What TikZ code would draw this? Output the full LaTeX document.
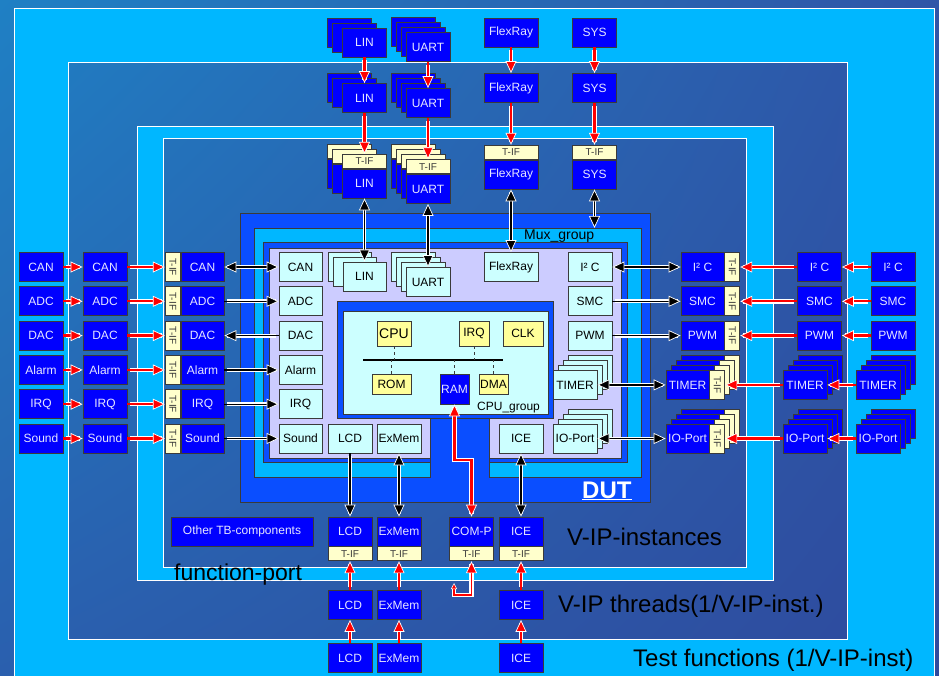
\documentclass[tikz,border=0pt]{standalone}
\usepackage{fontspec}
\setmainfont{Liberation Sans}
\setsansfont{Liberation Sans}
\usepackage{tikz}
\usetikzlibrary{arrows.meta,positioning,shadings}
\definecolor{tbsky}   {HTML}{1F80C4}
\definecolor{tbsteel} {HTML}{2F55A7}
\definecolor{tbdusk}  {HTML}{2A5FAE}
\definecolor{tbnavy}  {HTML}{2F4A9D}
\definecolor{tbcyan}  {HTML}{00B7FF}
\definecolor{tbdut}   {HTML}{0A4EFF}
\definecolor{tblilac} {HTML}{CCCCFF}
\definecolor{tbpale}  {HTML}{CCFFFF}
\definecolor{tbyellow}{HTML}{FFFF99}
\definecolor{tbcream} {HTML}{FFFFCC}
\definecolor{tbblue}  {HTML}{0000FF}
\definecolor{tbink}   {HTML}{3A3A3A}
\definecolor{tbtext}  {HTML}{E6E6FF}
\definecolor{tbred}   {HTML}{FF0000}
\tikzset{
  tbk/.tip={Triangle[length=12pt,width=11pt,color=white,fill=black,line width=0.7pt]},
  tbr/.tip={Triangle[length=12pt,width=11pt,color=white,fill=tbred,line width=0.7pt]},
  tbrs/.tip={Triangle[length=6pt,width=6pt,color=white,fill=tbred,line width=0.5pt]},
  tbnode/.style={draw=tbink, fill=tbblue, text=tbtext, line width=0.8pt, inner sep=0pt,
                 minimum width=44pt, minimum height=29pt, font=\fontsize{12}{14}\selectfont},
  tbmux/.style={tbnode, fill=tbpale, text=black},
  tbcore/.style={tbnode, fill=tbyellow, text=black, minimum height=20pt},
  tbtif/.style={tbnode, fill=tbcream, text=tbink, minimum height=14pt,
                font=\fontsize{10}{12}\selectfont},
  tbtifv/.style={tbtif, minimum width=29pt, minimum height=15pt, rotate=-90},
  tbframe/.style={draw=white, line width=0.9pt},
  tbshell/.style={draw=tbink, line width=0.8pt},
  tbwire/.style={draw=black, line width=1.4pt,
                 preaction={draw=white, line width=3.8pt, -, shorten >=3pt, shorten <=3pt}},
  tbflow/.style={draw=tbred, line width=2.3pt,
                 preaction={draw=white, line width=4.4pt, -, shorten >=3pt, shorten <=3pt}},
  tbtap/.style={draw=tbink, line width=0.8pt, dashed},
  tbbig/.style={font=\fontsize{24}{28}\selectfont, text=black, inner sep=0pt, anchor=base west},
}

\begin{document}
\begin{tikzpicture}[x=1pt, y=-1pt]
  \useasboundingbox (0,0) rectangle (939,675);
  \shade[upper left=tbsky, upper right=tbsteel, lower left=tbdusk, lower right=tbnavy]
    (0,0) rectangle (939,675);

  % nested test-bench frames
  \fill[tbcyan, even odd rule] (14,8) rectangle (934,700) (68,62) rectangle (847,639);
  \fill[tbcyan, even odd rule] (137,126) rectangle (773,580) (163,138) rectangle (746,567);
  \draw[tbframe] (14,8) rectangle (934,700);
  \draw[tbframe] (68,62) rectangle (847,639);
  \draw[tbframe] (137,126) rectangle (773,580);
  \draw[tbframe] (163,138) rectangle (746,567);

  % DUT, Mux_group and CPU_group
  \draw[tbshell, fill=tbdut] (240,213) rectangle (650,502);
  \draw[tbshell, fill=tbcyan] (254,228) -- (641,228) -- (641,477) -- (489,477) -- (489,418)
    -- (430,418) -- (430,477) -- (254,477) -- cycle;
  \draw[tbshell, fill=tbdut] (263,242) -- (627,242) -- (627,462) -- (489,462) -- (489,418)
    -- (430,418) -- (430,462) -- (263,462) -- cycle;
  \draw[tbshell, fill=tblilac] (269,248) -- (621,248) -- (621,458) -- (489,458) -- (489,418)
    -- (430,418) -- (430,458) -- (269,458) -- cycle;
  \draw[tbshell, fill=tbdut] (337,301) rectangle (553,418);
  \draw[tbshell, fill=tbpale] (343,311) rectangle (548,414);
  \node[font=\bfseries\fontsize{24}{28}\selectfont, text=white, inner sep=0pt, anchor=base west]
    (dutlabel) at (582,498) {\underline{DUT}};
  \node[font=\fontsize{14}{16}\selectfont, inner sep=0pt, anchor=base west] (muxlabel) at (524,239) {Mux\_group};
  \node[font=\fontsize{12}{14}\selectfont, inner sep=0pt, anchor=base west] (cpulabel) at (477,410.5) {CPU\_group};

  % CPU core
  \node[tbcore, minimum width=34pt, minimum height=25pt, font=\fontsize{14}{16}\selectfont] (cpu) at (394,333.5) {CPU};
  \node[tbcore, minimum width=30pt, minimum height=25pt] (irq) at (474,333.5) {IRQ};
  \node[tbcore, minimum width=40pt, minimum height=25pt] (clk) at (523,333.5) {CLK};
  \node[tbcore, minimum width=39pt] (rom) at (391.5,384) {ROM};
  \node[tbnode, minimum width=29pt, minimum height=30pt] (ram) at (454.5,389) {RAM};
  \node[tbcore, minimum width=29pt] (dma) at (493.5,384) {DMA};
  \coordinate (busw) at (363,360);
  \coordinate (buse) at (503,360);
  \draw[line width=2pt] (busw) -- (buse);
  \foreach \n in {cpu,irq} \draw[tbtap] (\n.south) -- (\n.south |- busw);
  \foreach \n in {rom,ram,dma} \draw[tbtap] (\n.north) -- (\n.north |- busw);

  % left side ports
  \foreach \name/\yy/\tips [count=\i] in {CAN/267/tbk-tbk,ADC/301.3/-tbk,DAC/335.6/tbk-,
      Alarm/369.9/-tbk,IRQ/404.2/-tbk,Sound/438.5/-tbk}{
    \node[tbnode] (fnL\i) at (41,\yy) {\name};
    \node[tbnode] (thL\i) at (105,\yy) {\name};
    \node[tbnode, minimum width=43pt] (inL\i) at (202.5,\yy) {\name};
    \node[tbtifv, anchor=north] (ifL\i) at (inL\i.west) {T-IF};
    \node[tbmux, minimum width=43pt] (mxL\i) at (300.5,\yy) {\name};
    \draw[tbflow, -tbr] (fnL\i) -- (thL\i);
    \draw[tbflow, -tbr] (thL\i) -- (ifL\i);
    \draw[tbwire, arrows/.expanded=\tips] (inL\i) -- (mxL\i);
  }

  % right side ports
  \foreach \name/\yy/\tips [count=\i] in {I² C/267/tbk-tbk,SMC/301.3/-tbk,PWM/335.6/-tbk}{
    \node[tbnode] (fnR\i) at (893,\yy) {\name};
    \node[tbnode] (thR\i) at (819.5,\yy) {\name};
    \node[tbnode, minimum width=43pt] (inR\i) at (702.5,\yy) {\name};
    \node[tbtifv, anchor=south] (ifR\i) at (inR\i.east) {T-IF};
    \node[tbmux] (mxR\i) at (590,\yy) {\name};
    \draw[tbflow, -tbr] (fnR\i) -- (thR\i);
    \draw[tbflow, -tbr] (thR\i) -- (ifR\i);
    \draw[tbwire, arrows/.expanded=\tips] (mxR\i) -- (inR\i);
  }
  \foreach \name/\yy [count=\j from 4] in {TIMER/384.9,IO-Port/438.5}{
    \foreach \k in {15,10,5}{
      \node[tbmux] at (575+\k,\yy-\k) {};
      \node[tbnode, minimum width=43pt] (tbsh) at (687.5+\k,\yy-\k) {};
      \node[tbtifv, anchor=south] at (tbsh.east) {};
      \node[tbnode] at (805+\k,\yy-\k) {};
      \node[tbnode] at (878+\k,\yy-\k) {};
    }
    \node[tbmux] (mxR\j) at (575,\yy) {\name};
    \node[tbnode, minimum width=43pt] (inR\j) at (687.5,\yy) {\name};
    \node[tbtifv, anchor=south] (ifR\j) at (inR\j.east) {T-IF};
    \node[tbnode] (thR\j) at (805,\yy) {\name};
    \node[tbnode] (fnR\j) at (878,\yy) {\name};
    \draw[tbflow, -tbr] (fnR\j) -- (thR\j);
    \draw[tbflow, -tbr] (thR\j) -- (ifR\j);
    \draw[tbwire, tbk-tbk] (mxR\j) -- (inR\j);
  }

  % top ports
  \foreach \dx/\dy in {-15/-10,-10/-5}{
    \node[tbnode] at (364.5+\dx,42.5+\dy) {};
    \node[tbnode] at (364.5+\dx,98+\dy) {};
    \node[tbnode] (tbsh) at (364.5+\dx,183.5+\dy) {};
    \node[tbtif, anchor=south] at (tbsh.north) {};
    \node[tbmux, minimum width=43pt] at (364.5+\dx,276.5+\dy) {};
  }
  \foreach \d in {-15,-10,-5}{
    \node[tbnode] at (428+\d,47+\d) {};
    \node[tbnode] at (428+\d,103+\d) {};
    \node[tbnode] (tbsh) at (428+\d,189+\d) {};
    \node[tbtif, anchor=south] at (tbsh.north) {};
    \node[tbmux] at (428+\d,282+\d) {};
  }
  \node[tbnode] (linf) at (364.5,42.5) {LIN};
  \node[tbnode] (linh) at (364.5,98) {LIN};
  \node[tbnode] (lini) at (364.5,183.5) {LIN};
  \node[tbtif, anchor=south] (lint) at (lini.north) {T-IF};
  \node[tbmux, minimum width=43pt] (linm) at (364.5,276.5) {LIN};
  \node[tbnode] (uartf) at (428,47) {UART};
  \node[tbnode] (uarth) at (428,103) {UART};
  \node[tbnode] (uarti) at (428,189) {UART};
  \node[tbtif, anchor=south] (uartt) at (uarti.north) {T-IF};
  \node[tbmux] (uartm) at (428,282) {UART};
  \node[tbnode, minimum width=54pt] (flxf) at (511,32.5) {FlexRay};
  \node[tbnode, minimum width=54pt] (flxh) at (511,88) {FlexRay};
  \node[tbnode, minimum width=54pt] (flxi) at (511,174.5) {FlexRay};
  \node[tbtif, minimum width=54pt, anchor=south] (flxt) at (flxi.north) {T-IF};
  \node[tbmux, minimum width=54pt] (flxm) at (511,267) {FlexRay};
  \node[tbnode] (sysf) at (594.5,32.5) {SYS};
  \node[tbnode] (sysh) at (594.5,88) {SYS};
  \node[tbnode] (sysi) at (594.5,174.5) {SYS};
  \node[tbtif, anchor=south] (syst) at (sysi.north) {T-IF};
  \coordinate (muxtop) at (594.5,228);
  \foreach \n in {lin,uart,flx,sys}{
    \draw[tbflow, -tbr] (\n f) -- (\n h);
    \draw[tbflow, -tbr] (\n h) -- (\n t);
  }
  \foreach \n in {lin,uart,flx}
    \draw[tbwire, tbk-tbk] (\n i) -- (\n m);
  \draw[tbwire, tbk-tbk] (sysi) -- (sysi |- muxtop);

  % bottom ports
  \node[tbmux] (lcdm) at (350,438.5) {LCD};
  \node[tbmux] (exmm) at (399,438.5) {ExMem};
  \node[tbmux] (icem) at (521,438.5) {ICE};
  \node[tbnode] (lcdi) at (350,531.5) {LCD};
  \node[tbnode] (exmi) at (399,531.5) {ExMem};
  \node[tbnode] (compi) at (471.5,531.5) {COM-P};
  \node[tbnode] (icei) at (521,531.5) {ICE};
  \foreach \n in {lcd,exm,comp,ice}
    \node[tbtif, anchor=north] (\n t) at (\n i.south) {T-IF};
  \foreach \n/\name/\xx in {lcd/LCD/350,exm/ExMem/399,ice/ICE/521}{
    \node[tbnode] (\n h) at (\xx,605) {\name};
    \node[tbnode] (\n f) at (\xx,658) {\name};
    \draw[tbflow, -tbr] (\n f) -- (\n h);
    \draw[tbflow, -tbr] (\n h) -- (\n t);
  }
  \draw[tbwire, -tbk] (lcdm) -- (lcdi);
  \draw[tbwire, tbk-tbk] (exmm) -- (exmi);
  \draw[tbwire, tbk-tbk] (icem) -- (icei);
  \coordinate (ramjog) at (471.5,460);
  \draw[tbflow, tbr-tbr] (ram.south) |- (ramjog) -- (compi.north);
  \coordinate (loopend) at (454,583);
  \coordinate (loopturn) at (471.5,595);
  \draw[tbflow, line width=1.6pt, tbrs-tbr] (loopend) |- (loopturn) -- (compt.south);
  \node[tbnode, minimum width=142pt] (otb) at (242,531.5) {Other TB-components};

  % layer captions
  \node[tbbig] (lblinst) at (567,545) {V-IP-instances};
  \node[tbbig] (lblthr) at (558,612) {V-IP threads(1/V-IP-inst.)};
  \node[tbbig] (lbltest) at (633,666) {Test functions (1/V-IP-inst)};
  \node[tbbig, font=\fontsize{23}{27}\selectfont] (lblport) at (174,580.5) {function-port};
\end{tikzpicture}
\end{document}
